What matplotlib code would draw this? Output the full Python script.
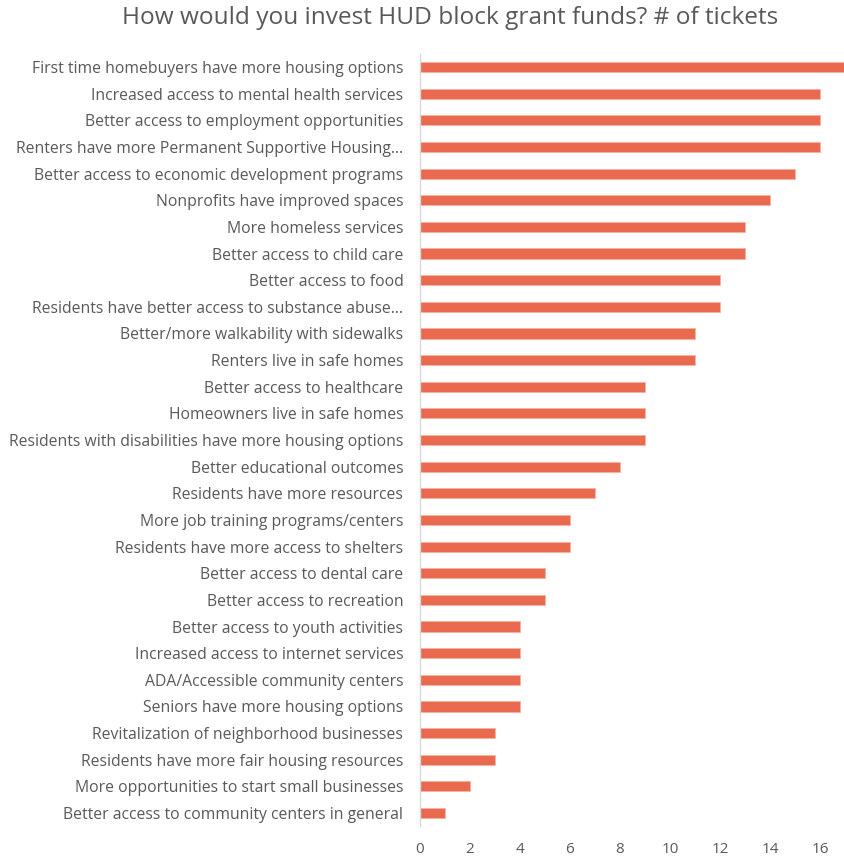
import matplotlib.pyplot as plt

categories = [
    'First time homebuyers have more housing options',
    'Increased access to mental health services',
    'Better access to employment opportunities',
    'Renters have more Permanent Supportive Housing\u2026',
    'Better access to economic development programs',
    'Nonprofits have improved spaces',
    'More homeless services',
    'Better access to child care',
    'Better access to food',
    'Residents have better access to substance abuse\u2026',
    'Better/more walkability with sidewalks',
    'Renters live in safe homes',
    'Better access to healthcare',
    'Homeowners live in safe homes',
    'Residents with disabilities have more housing options',
    'Better educational outcomes',
    'Residents have more resources',
    'More job training programs/centers',
    'Residents have more access to shelters',
    'Better access to dental care',
    'Better access to recreation',
    'Better access to youth activities',
    'Increased access to internet services',
    'ADA/Accessible community centers',
    'Seniors have more housing options',
    'Revitalization of neighborhood businesses',
    'Residents have more fair housing resources',
    'More opportunities to start small businesses',
    'Better access to community centers in general',
]
tickets = [17, 16, 16, 16, 15, 14, 13, 13, 12, 12, 11, 11, 9, 9, 9, 8, 7,
           6, 6, 5, 5, 4, 4, 4, 4, 3, 3, 2, 1]
xticks = [0, 2, 4, 6, 8, 10, 12, 14, 16]

plt.rcParams['font.family'] = ['Open Sans', 'DejaVu Sans']

fig = plt.figure(figsize=(8.45, 8.59), dpi=100)
ax = fig.add_axes([0.497, 0.038, 0.503, 0.8995])

y = list(range(len(categories)))
ax.barh(y, tickets, height=0.38, color='#EA6A50', edgecolor='#F4B3A4', linewidth=0.6)
ax.set_yticks(y)
ax.set_yticklabels(categories, fontsize=11.3, color='#595959')
ax.set_ylim(len(categories) - 0.5, -0.5)
ax.set_xlim(0, 17)
ax.set_xticks(xticks)
ax.tick_params(axis='x', labelsize=11, labelcolor='#595959', length=0, pad=11)
ax.tick_params(axis='y', length=0, pad=12)

for s in ['top', 'right', 'bottom']:
    ax.spines[s].set_visible(False)
ax.spines['left'].set_color('#D9D9D9')
ax.spines['left'].set_linewidth(1)

fig.text(0.533, 0.979, 'How would you invest HUD block grant funds? # of tickets',
         fontsize=17.6, color='#595959', ha='center', va='center')

fig.savefig('out.png', dpi=100)
